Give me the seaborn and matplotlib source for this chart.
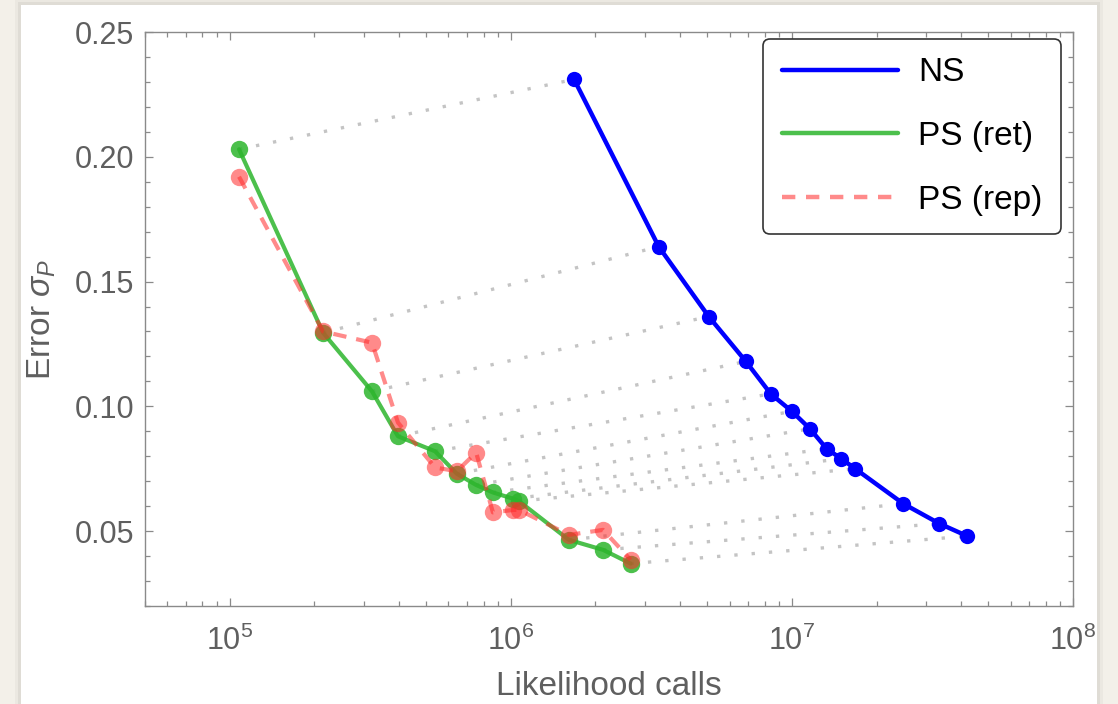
import matplotlib
matplotlib.use("Agg")
import matplotlib.pyplot as plt
from matplotlib.lines import Line2D
from matplotlib.patches import Rectangle
from matplotlib.ticker import LogLocator, MultipleLocator, NullFormatter, FormatStrFormatter
import numpy as np
import pandas as pd
import seaborn as sns

# Nested sampling: likelihood calls and error
ns_calls = [1.68e6, 3.36e6, 5.06e6, 6.86e6, 8.41e6, 1.00e7, 1.16e7,
            1.33e7, 1.50e7, 1.68e7, 2.49e7, 3.35e7, 4.21e7]
ns_err = [0.231, 0.164, 0.136, 0.118, 0.105, 0.098, 0.091,
          0.083, 0.079, 0.075, 0.061, 0.053, 0.048]

# Posterior sampling: shared likelihood calls, two error estimates
ps_calls = [1.08e5, 2.15e5, 3.21e5, 3.97e5, 5.38e5, 6.43e5, 7.53e5,
            8.64e5, 1.02e6, 1.07e6, 1.61e6, 2.13e6, 2.67e6]
ret_err = [0.203, 0.1295, 0.106, 0.088, 0.082, 0.073, 0.0685,
           0.0655, 0.063, 0.062, 0.0465, 0.0425, 0.037]
rep_err = [0.192, 0.130, 0.1255, 0.0935, 0.0755, 0.074, 0.0815,
           0.0575, 0.0585, 0.0585, 0.0485, 0.0505, 0.0385]

series_labels = ["NS", "PS (ret)", "PS (rep)"]

sns.set_theme(style="ticks")
plt.rcParams["font.family"] = ["Liberation Sans", "DejaVu Sans"]
plt.rcParams["mathtext.fontset"] = "custom"
plt.rcParams["mathtext.rm"] = "Liberation Sans"
plt.rcParams["mathtext.it"] = "Liberation Sans:italic"
plt.rcParams["mathtext.bf"] = "Liberation Sans:bold"

GRAY_TXT = "#5f5f5f"
FRAME = "#8a8a8a"
BLUE = "#0000ff"
GREEN = "#2db52d"
RED = "#ff2a2a"

fig = plt.figure(figsize=(11.18, 7.04), dpi=100, facecolor="#f3f0e9")
# white card behind the plot, with a faint shadow
for off, a in [(6, 0.03), (3, 0.05)]:
    fig.patches.append(Rectangle((21 / 1118 - off / 1118, -0.02), (1076 + 2 * off) / 1118,
                                 (699 + off) / 704 + 0.02, transform=fig.transFigure,
                                 facecolor="#000000", alpha=a, edgecolor="none", zorder=-3))
fig.patches.append(Rectangle((21 / 1118, -0.02), 1076 / 1118, 699 / 704 + 0.02,
                             transform=fig.transFigure, facecolor="white",
                             edgecolor="none", zorder=-2))

ax = fig.add_axes([145 / 1118, 98 / 704, 928 / 1118, 574 / 704])
ax.set_facecolor("white")

# Dotted connectors pairing each PS point with its NS counterpart
pairs = pd.DataFrame({
    "calls": list(ps_calls) + list(ns_calls),
    "err": list(ret_err) + list(ns_err),
    "pair": list(range(len(ps_calls))) * 2,
})
sns.lineplot(data=pairs, x="calls", y="err", units="pair", estimator=None, sort=False,
             color="#c4c4c4", linewidth=2.4, linestyle=(0, (1.0, 4.2)),
             ax=ax, legend=False, zorder=1)

ns_df = pd.DataFrame({"calls": ns_calls, "err": ns_err})
ret_df = pd.DataFrame({"calls": ps_calls, "err": ret_err})
rep_df = pd.DataFrame({"calls": ps_calls, "err": rep_err})

sns.lineplot(data=ns_df, x="calls", y="err", sort=False, color=BLUE, linewidth=3.2,
             marker="o", markersize=11, markeredgewidth=0, ax=ax, legend=False, zorder=3)
sns.lineplot(data=ret_df, x="calls", y="err", sort=False, color=GREEN, linewidth=3.0,
             alpha=0.85, marker="o", markersize=12.5, markeredgewidth=0, ax=ax,
             legend=False, zorder=4)
sns.lineplot(data=rep_df, x="calls", y="err", sort=False, color=RED, linewidth=3.0,
             alpha=0.55, marker="o", markersize=12.5, markeredgewidth=0,
             dashes=False, linestyle=(0, (3.2, 2.4)), ax=ax, legend=False, zorder=5)

ax.set_xscale("log")
ax.set_xlim(5e4, 1e8)
ax.set_ylim(0.02, 0.25)

ax.xaxis.set_major_locator(LogLocator(base=10, numticks=10))
ax.xaxis.set_minor_locator(LogLocator(base=10, subs=np.arange(2, 10), numticks=40))
ax.xaxis.set_minor_formatter(NullFormatter())
ax.yaxis.set_major_locator(MultipleLocator(0.05))
ax.yaxis.set_minor_locator(MultipleLocator(0.01))
ax.yaxis.set_major_formatter(FormatStrFormatter("%.2f"))

ax.tick_params(which="both", direction="in", top=True, right=True, color=FRAME,
               width=0.9, labelcolor=GRAY_TXT, labelsize=22)
ax.tick_params(which="major", length=6)
ax.tick_params(which="minor", length=3.5)
ax.tick_params(axis="x", which="major", pad=14)
ax.tick_params(axis="y", which="major", pad=8)
for s in ax.spines.values():
    s.set_color(FRAME)
    s.set_linewidth(1.0)

ax.set_xlabel("Likelihood calls", fontsize=24, color=GRAY_TXT, labelpad=10)
ax.set_ylabel(r"Error $\sigma_P$", fontsize=24, color=GRAY_TXT, labelpad=12)

handles = [
    Line2D([], [], color=BLUE, linewidth=3.2),
    Line2D([], [], color=GREEN, linewidth=3.2, alpha=0.85),
    Line2D([], [], color=RED, linewidth=3.2, alpha=0.55, linestyle=(0, (3.0, 2.4))),
]
leg = ax.legend(handles, series_labels, loc="upper right",
                bbox_to_anchor=(0.987, 0.988), borderaxespad=0, fontsize=24,
                frameon=True, fancybox=True, handlelength=3.5, handletextpad=0.6,
                labelspacing=0.98, borderpad=0.55, framealpha=1)
leg.get_frame().set_edgecolor("#333333")
leg.get_frame().set_linewidth(1.2)
for t in leg.get_texts():
    t.set_color("black")

fig.savefig("out.png", dpi=100, facecolor=fig.get_facecolor())
